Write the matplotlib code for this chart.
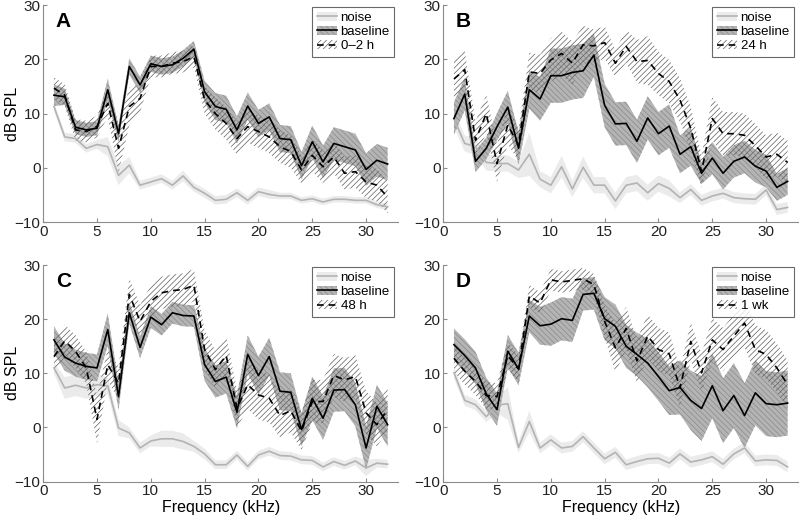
import matplotlib
matplotlib.use("Agg")
import matplotlib.pyplot as plt
import numpy as np
from matplotlib.patches import Patch
from matplotlib.lines import Line2D

plt.rcParams['font.family'] = ['Liberation Sans', 'DejaVu Sans']
plt.rcParams['hatch.linewidth'] = 0.5

freq = list(range(1, 33))

# ---------- Panel A ----------
a_noise = [11.3, 5.7, 5.4, 3.6, 4.3, 3.9, -1.4, 0.5, -3.2, -2.6, -2.0, -3.2, -1.5, -3.6, -4.7, -6.0,
           -5.8, -4.6, -6.0, -4.4, -4.9, -5.2, -5.2, -6.0, -5.7, -6.3, -5.8, -5.8, -6.0, -6.0, -6.8, -7.2]
a_noise_err = [0.8, 0.8, 0.8, 0.8, 0.8, 1.8, 1.8, 1.5, 0.8, 0.8, 0.8, 0.8, 1.0, 0.8, 0.8, 0.8,
               0.8, 0.8, 0.8, 0.8, 0.8, 0.6, 0.6, 0.6, 0.6, 0.6, 0.6, 0.6, 0.6, 0.6, 0.6, 0.6]
a_base = [13.4, 13.1, 7.5, 7.0, 7.3, 14.4, 6.3, 18.7, 15.3, 19.2, 18.7, 19.0, 20.2, 21.9, 14.0, 11.3,
          10.8, 7.0, 11.4, 8.2, 9.4, 5.4, 5.2, 0.4, 4.8, 1.1, 4.5, 3.9, 3.3, -0.3, 1.4, 0.7]
a_base_err = [2.0, 1.5, 1.3, 1.3, 1.3, 2.0, 1.5, 1.5, 1.5, 1.5, 1.5, 1.5, 1.5, 1.5, 2.0, 2.5,
              2.5, 2.5, 2.5, 2.5, 2.5, 2.5, 2.5, 2.5, 3.0, 3.0, 3.0, 3.0, 3.0, 3.0, 3.0, 3.0]
a_post = [14.7, 13.4, 7.0, 6.7, 7.6, 11.9, 3.6, 11.3, 12.8, 18.7, 18.7, 19.3, 19.6, 20.5, 12.5, 10.0,
          8.2, 5.4, 7.6, 6.7, 5.7, 3.9, 3.0, -0.4, 2.3, 0.2, 2.0, -1.0, -0.7, -2.6, -3.2, -5.4]
a_post_err = [2.0, 2.0, 2.0, 2.0, 2.0, 2.5, 4.5, 3.5, 2.5, 2.0, 2.0, 2.0, 2.0, 2.0, 2.5, 3.0,
              3.0, 3.0, 3.0, 3.0, 3.0, 3.0, 3.0, 2.5, 3.0, 3.0, 3.0, 3.0, 3.0, 3.0, 3.0, 3.0]

# ---------- Panel B ----------
b_noise = [9.0, 4.5, 3.9, 1.0, 0.8, 0.8, -0.4, 2.5, -2.1, -3.2, 0.2, -3.9, 0.1, -3.2, -3.2, -6.1,
           -3.2, -2.8, -4.6, -2.9, -3.8, -5.5, -4.0, -6.0, -5.2, -4.7, -5.5, -5.7, -5.8, -4.1, -7.7, -7.3]
b_noise_err = [1.5, 1.5, 1.5, 1.5, 1.5, 1.5, 1.5, 4.0, 1.5, 1.5, 2.0, 1.5, 2.0, 1.5, 1.5, 1.5,
               1.5, 1.5, 1.5, 1.5, 1.5, 1.0, 1.0, 1.0, 1.0, 1.0, 1.0, 1.0, 1.0, 1.0, 1.0, 1.0]
b_base = [9.1, 13.6, 1.2, 3.6, 7.6, 11.2, 3.6, 14.4, 12.7, 17.0, 17.0, 17.6, 17.9, 20.8, 11.5, 8.1,
          8.2, 4.9, 9.2, 6.3, 7.7, 2.5, 3.9, -1.0, 1.8, -1.0, 1.2, 2.0, 0.3, -0.6, -3.6, -2.5]
b_base_err = [3.0, 3.0, 2.0, 2.0, 2.5, 3.0, 3.0, 3.5, 4.0, 5.0, 5.0, 5.0, 5.0, 4.0, 4.0, 4.0,
              4.0, 4.0, 4.0, 4.0, 4.0, 3.5, 3.5, 2.0, 3.0, 3.0, 3.0, 3.0, 3.0, 3.0, 2.5, 2.5]
b_post = [16.4, 18.1, 5.1, 10.0, 0.8, 7.9, 4.2, 17.7, 17.4, 19.9, 21.1, 19.3, 22.7, 22.5, 23.1, 19.3,
          22.4, 19.6, 19.8, 17.4, 15.9, 12.5, 7.3, -0.7, 9.1, 6.3, 6.3, 6.0, 4.1, 2.0, 2.5, 1.0]
b_post_err = [3.5, 3.5, 3.5, 3.5, 3.5, 3.5, 3.0, 3.5, 3.5, 4.0, 4.0, 4.0, 3.5, 3.0, 3.0, 2.5,
              3.0, 4.0, 4.5, 4.0, 4.0, 4.0, 4.0, 3.0, 4.0, 4.0, 4.0, 4.0, 4.0, 4.0, 4.0, 4.0]

# ---------- Panel C ----------
c_noise = [11.0, 7.3, 7.8, 7.3, 7.9, 7.7, -0.1, -1.0, -3.8, -2.5, -2.1, -2.1, -2.6, -3.5, -4.9, -6.9,
           -6.9, -5.1, -7.2, -5.1, -4.4, -5.2, -5.3, -6.0, -6.1, -7.3, -6.3, -7.0, -6.2, -7.5, -6.6, -6.8]
c_noise_err = [1.0, 2.0, 2.0, 2.0, 2.0, 1.5, 1.5, 1.0, 1.0, 1.0, 1.5, 1.5, 1.5, 1.0, 1.0, 0.8,
               0.8, 0.8, 0.8, 0.8, 0.8, 0.8, 0.8, 0.8, 0.8, 0.8, 0.8, 0.8, 0.8, 1.5, 0.8, 0.8]
c_base = [16.2, 13.0, 11.9, 11.3, 11.0, 18.1, 5.7, 21.2, 14.8, 20.4, 19.0, 21.2, 20.7, 20.6, 11.6, 8.5,
          9.3, 2.8, 13.5, 9.6, 13.1, 6.7, 6.5, -0.4, 5.4, 1.7, 6.9, 7.0, 4.2, -3.8, 3.9, 0.5]
c_base_err = [2.5, 2.5, 2.5, 2.5, 2.5, 3.0, 2.5, 2.0, 2.0, 2.0, 2.0, 2.0, 2.0, 2.0, 3.0, 3.0,
              3.0, 3.0, 3.5, 3.5, 3.5, 3.5, 3.5, 3.0, 4.0, 4.0, 4.0, 4.0, 4.0, 4.0, 4.0, 4.0]
c_post = [13.1, 16.0, 14.1, 11.0, 1.5, 11.6, 8.2, 24.6, 19.6, 23.3, 24.9, 25.3, 25.5, 26.3, 14.4, 10.7,
          13.3, 3.5, 7.9, 6.0, 5.4, 2.2, 3.1, -0.7, 4.8, 4.8, 9.6, 8.8, 9.4, 2.7, 0.5, 3.3]
c_post_err = [3.0, 3.0, 3.0, 3.0, 4.5, 3.0, 3.0, 3.0, 3.0, 3.0, 3.0, 3.0, 3.0, 3.0, 3.5, 3.5,
              3.5, 3.5, 4.5, 4.5, 4.5, 4.0, 4.0, 3.5, 4.0, 4.0, 4.0, 4.0, 4.0, 4.0, 4.0, 4.0]

# ---------- Panel D ----------
d_noise = [10.1, 5.0, 4.2, 2.0, 4.1, 4.4, -3.7, 1.1, -3.8, -2.3, -3.8, -3.5, -1.7, -3.8, -5.8, -4.6,
           -6.9, -6.3, -5.8, -5.7, -6.6, -4.9, -6.4, -6.0, -5.4, -6.8, -4.9, -3.8, -6.2, -6.0, -6.1, -7.3]
d_noise_err = [1.0, 1.0, 1.0, 1.0, 1.5, 3.0, 1.0, 2.0, 1.0, 1.0, 1.0, 1.0, 1.0, 1.0, 1.0, 1.0,
               1.0, 1.0, 1.0, 1.0, 1.0, 1.0, 1.0, 1.0, 1.0, 1.0, 1.0, 1.0, 1.0, 1.0, 1.0, 1.0]
d_base = [15.3, 13.3, 11.0, 6.2, 3.3, 14.1, 10.8, 20.6, 18.8, 19.1, 20.1, 19.8, 24.6, 24.8, 20.1, 18.7,
          15.0, 13.5, 11.9, 9.4, 6.8, 7.4, 5.0, 3.5, 7.7, 3.1, 5.9, 2.2, 6.4, 4.4, 4.2, 4.5]
d_base_err = [3.0, 3.0, 3.0, 3.0, 3.0, 3.0, 3.0, 3.0, 3.5, 4.0, 4.0, 4.0, 3.0, 3.0, 4.0, 4.0,
              4.0, 4.0, 4.5, 4.5, 4.5, 5.0, 5.5, 6.0, 6.0, 6.0, 6.0, 6.0, 6.0, 6.0, 6.0, 6.0]
d_post = [12.8, 10.4, 8.5, 5.9, 5.7, 13.3, 10.8, 24.3, 23.0, 27.3, 26.9, 27.2, 27.5, 26.4, 19.6, 14.7,
          18.3, 12.3, 16.9, 14.4, 13.6, 7.3, 15.9, 10.1, 16.2, 14.4, 16.9, 19.3, 14.4, 13.5, 11.0, 7.9]
d_post_err = [2.5, 2.5, 2.5, 2.5, 2.5, 2.5, 2.5, 2.0, 2.0, 2.0, 2.0, 2.0, 2.0, 2.0, 3.0, 4.5,
              4.0, 4.0, 4.0, 4.0, 4.0, 3.5, 3.5, 3.5, 4.0, 4.0, 4.0, 4.5, 4.5, 4.5, 4.5, 4.5]

panels = [
    ("A", "0\u20132 h", a_noise, a_noise_err, a_base, a_base_err, a_post, a_post_err),
    ("B", "24 h", b_noise, b_noise_err, b_base, b_base_err, b_post, b_post_err),
    ("C", "48 h", c_noise, c_noise_err, c_base, c_base_err, c_post, c_post_err),
    ("D", "1 wk", d_noise, d_noise_err, d_base, d_base_err, d_post, d_post_err),
]

fig = plt.figure(figsize=(8, 5.2), dpi=100)
positions = [
    [0.054, 0.573, 0.444, 0.417],
    [0.554, 0.573, 0.444, 0.417],
    [0.054, 0.074, 0.444, 0.416],
    [0.554, 0.074, 0.444, 0.416],
]

x = np.array(freq)
spine_col = '#8c8c8c'
noise_fill = '#ebebeb'
base_fill = '#b4b4b4'
base_hatch = '#8a8a8a'
post_hatch = '#5e5e5e'
for i, (letter, label, nz, nze, bs, bse, ps, pse) in enumerate(panels):
    ax = fig.add_axes(positions[i])
    nz, nze, bs, bse, ps, pse = map(np.array, (nz, nze, bs, bse, ps, pse))
    ax.fill_between(x, nz - nze, nz + nze, facecolor=noise_fill, edgecolor='none', zorder=1)
    ax.fill_between(x, bs - bse, bs + bse, facecolor=base_fill, edgecolor=base_hatch,
                    linewidth=0, hatch='\\\\\\\\\\\\', zorder=2)
    ax.fill_between(x, ps - pse, ps + pse, facecolor='none', edgecolor=post_hatch,
                    linewidth=0, hatch='//////', zorder=3)
    ax.plot(x, nz, color='#b3b3b3', lw=1.2, zorder=4)
    ax.plot(x, bs, color='black', lw=1.2, zorder=5)
    ax.plot(x, ps, color='black', lw=1.2, ls=(0, (4, 3)), zorder=6)

    ax.set_xlim(0, 33)
    ax.set_ylim(-10, 30)
    ax.set_xticks([0, 5, 10, 15, 20, 25, 30])
    ax.set_yticks([-10, 0, 10, 20, 30])
    for s in ['top', 'right']:
        ax.spines[s].set_visible(False)
    for s in ['left', 'bottom']:
        ax.spines[s].set_color(spine_col)
        ax.spines[s].set_linewidth(0.8)
    ax.tick_params(direction='in', length=3, width=0.8, color=spine_col,
                   labelsize=11, labelcolor='#222222', pad=2)
    ax.text(0.035, 0.97, letter, transform=ax.transAxes, fontsize=15, fontweight='bold',
            va='top', ha='left')
    if i % 2 == 0:
        ax.set_ylabel('dB SPL', fontsize=11.5)
        ax.yaxis.set_label_coords(-0.066, 0.5)
    if i >= 2:
        ax.set_xlabel('Frequency (kHz)', fontsize=11.5, labelpad=1)

    h_noise = (Patch(facecolor=noise_fill, edgecolor='none'),
               Line2D([], [], color='#b3b3b3', lw=1.2))
    h_base = (Patch(facecolor=base_fill, edgecolor=base_hatch, linewidth=0, hatch='\\\\\\\\\\\\'),
              Line2D([], [], color='black', lw=1.2))
    h_post = (Patch(facecolor='none', edgecolor=post_hatch, linewidth=0, hatch='//////'),
              Line2D([], [], color='black', lw=1.2, ls=(0, (4, 3))))
    leg = ax.legend([h_noise, h_base, h_post], ['noise', 'baseline', label],
                    loc='upper right', bbox_to_anchor=(1.0, 1.01), fontsize=9.5,
                    frameon=True, fancybox=False, handlelength=1.5, handletextpad=0.3,
                    borderpad=0.35, labelspacing=0.15, borderaxespad=0.3)
    leg.get_frame().set_edgecolor('#444444')
    leg.get_frame().set_linewidth(0.8)

fig.savefig('out.png', dpi=100)
